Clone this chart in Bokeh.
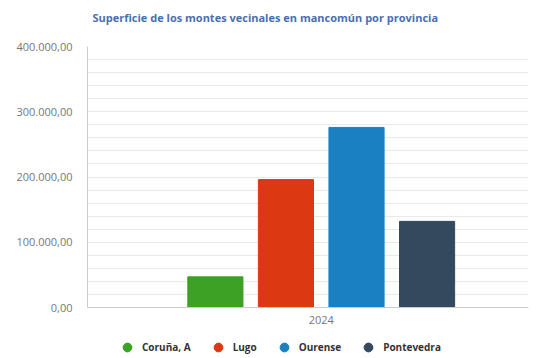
from bokeh.plotting import figure
from bokeh.layouts import column
from bokeh.models import (Range1d, FixedTicker, CustomJSTickFormatter, Legend,
                          LegendItem, ColumnDataSource, Label)
from bokeh.embed import file_html
from bokeh.resources import INLINE

title_text = "Superficie de los montes vecinales en mancomún por provincia"
years = ["2024"]
provinces = ["Coruña, A", "Lugo", "Ourense", "Pontevedra"]
values = [47000, 196000, 276000, 132000]
colors = ["#3ca124", "#dc3912", "#1a80c2", "#34495e"]
y_ticks = [0, 100000, 200000, 300000, 400000]

FONT = "Open Sans"

# title-only strip above the chart
tf = figure(width=529, height=30, output_backend="svg", toolbar_location=None,
            x_range=Range1d(0, 1), y_range=Range1d(0, 1),
            x_axis_type=None, y_axis_type=None,
            min_border_left=0, min_border_right=0, min_border_top=0,
            min_border_bottom=0)
tf.outline_line_color = None
tf.grid.visible = False
tf.add_layout(Label(x=0, y=0.43, x_offset=5, text=title_text,
                    text_font=FONT, text_font_size="11px",
                    text_font_style="bold", text_color="#4a6fb0",
                    text_baseline="middle", text_align="left"))

p = figure(width=529, height=300, output_backend="svg", toolbar_location=None,
           x_range=Range1d(-0.03, 0.97), y_range=Range1d(0, 400000),
           min_border_left=87, min_border_right=1, min_border_top=16,
           min_border_bottom=23)

p.outline_line_color = None
p.xgrid.grid_line_color = None
p.ygrid.ticker = FixedTicker(ticks=list(range(0, 400001, 20000)))
p.ygrid.grid_line_color = "#e9e9e9"

# legend-only strip below the chart
lg = figure(width=529, height=28, output_backend="svg", toolbar_location=None,
            x_range=Range1d(0, 1), y_range=Range1d(0, 1),
            x_axis_type=None, y_axis_type=None,
            min_border_left=0, min_border_right=0, min_border_top=0,
            min_border_bottom=0)
lg.outline_line_color = None
lg.grid.visible = False

bar_w = 0.125
step = 0.16
items = []
for i, (prov, val, col) in enumerate(zip(provinces, values, colors)):
    x = [0.5 + (i - 1.5) * step]
    src = ColumnDataSource(dict(x=x, top=[val]))
    p.vbar(x="x", top="top", width=bar_w, source=src, fill_color=col,
           line_color=col)
    dot = lg.scatter(x="x", y="top", source=src, marker="circle", size=0,
                     fill_color=col, line_color=col)
    items.append(LegendItem(label=prov, renderers=[dot]))

p.xaxis.ticker = FixedTicker(ticks=[0.5])
p.xaxis.major_label_overrides = {0.5: years[0]}
p.yaxis.ticker = FixedTicker(ticks=y_ticks)
p.yaxis.formatter = CustomJSTickFormatter(code="""
const s = tick.toFixed(2).split('.');
s[0] = s[0].replace(/\\B(?=(\\d{3})+(?!\\d))/g, '.');
return s[0] + ',' + s[1];
""")
for ax in (p.xaxis[0], p.yaxis[0]):
    ax.axis_line_color = "#cccccc"
    ax.major_tick_line_color = None
    ax.minor_tick_line_color = None
    ax.major_label_text_font = FONT
    ax.major_label_text_font_size = "11px"
    ax.major_label_text_color = "#777777"
p.yaxis.major_label_standoff = 9
p.xaxis.major_label_standoff = 2

legend = Legend(items=items, orientation="horizontal", location=(29, 0),
                label_text_font=FONT, label_text_font_size="10px",
                label_text_font_style="bold", label_text_color="#333333",
                glyph_width=22, glyph_height=22, spacing=16,
                label_standoff=4, padding=0, margin=0,
                border_line_color=None, background_fill_alpha=0)
lg.add_layout(legend, "center")

layout = column(tf, p, lg, spacing=0)
open("out.html", "w").write(file_html(layout, INLINE))
